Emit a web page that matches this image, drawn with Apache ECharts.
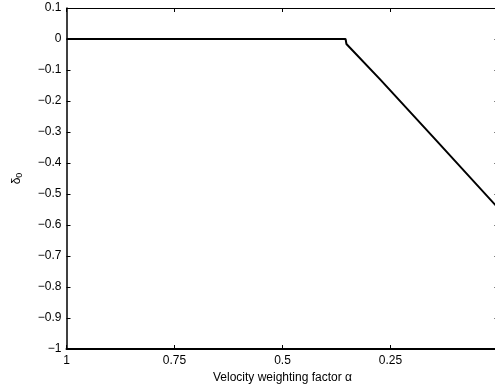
<!DOCTYPE html>
<html>
<head>
<meta charset="utf-8">
<script src="https://cdn.jsdelivr.net/npm/echarts@6/dist/echarts.min.js"></script>
<style>
html,body{margin:0;padding:0;background:#fff;}
#c{width:495px;height:389px;}
</style>
</head>
<body>
<div id="c"></div>
<script>
// Data
const alpha  = [1, 0.354, 0.352, 0.273, 0.15, 0.007, 0];
const delta0 = [0, 0, -0.016, -0.132, -0.318, -0.536, -0.546];
const xTicks = ['1', '0.75', '0.5', '0.25', '0'];
const xLabel = 'Velocity weighting factor \u03b1';

const FONT = 'Liberation Sans, Arial, Helvetica, sans-serif';
const chart = echarts.init(document.getElementById('c'), null, {renderer: 'canvas'});

function fmtY(v) {
  const r = Math.round(v * 10) / 10;
  if (r === 0) return '0';
  return (r < 0 ? '\u2212' : '') + Math.abs(r).toString();
}
function fmtX(v) {
  const r = Math.round(v * 100) / 100;
  const idx = [1, 0.75, 0.5, 0.25, 0].indexOf(r);
  return idx >= 0 ? xTicks[idx] : '';
}

chart.setOption({
  animation: false,
  backgroundColor: '#fff',
  grid: {left: 66.5, top: 8, width: 432, height: 341, containLabel: false, outerBoundsMode: 'none'},
  xAxis: [{
    type: 'value', inverse: true, min: 0, max: 1, interval: 0.25,
    position: 'bottom',
    axisLine: {show: true, onZero: false, lineStyle: {color: '#000', width: 2}},
    axisTick: {show: true, inside: true, length: 4, lineStyle: {color: '#000', width: 1}},
    axisLabel: {color: '#000', fontSize: 12, fontFamily: FONT, margin: 6, formatter: fmtX, hideOverlap: false},
    splitLine: {show: false},
    name: xLabel, nameLocation: 'middle', nameGap: 22,
    nameTextStyle: {color: '#000', fontSize: 12, fontFamily: FONT}
  }, {
    type: 'value', inverse: true, min: 0, max: 1, interval: 0.25,
    position: 'top',
    axisLine: {show: true, onZero: false, lineStyle: {color: '#000', width: 1}},
    axisTick: {show: true, inside: true, length: 4, lineStyle: {color: '#000', width: 1}},
    axisLabel: {show: false},
    splitLine: {show: false}
  }],
  yAxis: [{
    type: 'value', min: -1, max: 0.1, interval: 0.1,
    position: 'left',
    axisLine: {show: true, onZero: false, lineStyle: {color: '#000', width: 1.5}},
    axisTick: {show: true, inside: true, length: 4, lineStyle: {color: '#000', width: 1}},
    axisLabel: {color: '#000', fontSize: 12, fontFamily: FONT, margin: 5, formatter: fmtY},
    splitLine: {show: false},
    name: '{d|\u03b4}{s|0}', nameLocation: 'middle', nameGap: 42, nameRotate: 90,
    nameTextStyle: {
      color: '#000', fontFamily: FONT,
      rich: {
        d: {fontSize: 12, fontFamily: FONT, color: '#000'},
        s: {fontSize: 9, fontFamily: FONT, color: '#000', verticalAlign: 'bottom', padding: [6, 0, 0, 0]}
      }
    }
  }, {
    type: 'value', min: -1, max: 0.1, interval: 0.1,
    position: 'right',
    axisLine: {show: true, onZero: false, lineStyle: {color: '#000', width: 1}},
    axisTick: {show: true, inside: true, length: 4, lineStyle: {color: '#000', width: 1}},
    axisLabel: {show: false},
    splitLine: {show: false}
  }],
  series: [{
    type: 'line',
    xAxisIndex: 0, yAxisIndex: 0,
    data: alpha.map((a, i) => [a, delta0[i]]),
    showSymbol: false,
    lineStyle: {color: '#000', width: 2},
    clip: true
  }]
});
</script>
</body>
</html>
